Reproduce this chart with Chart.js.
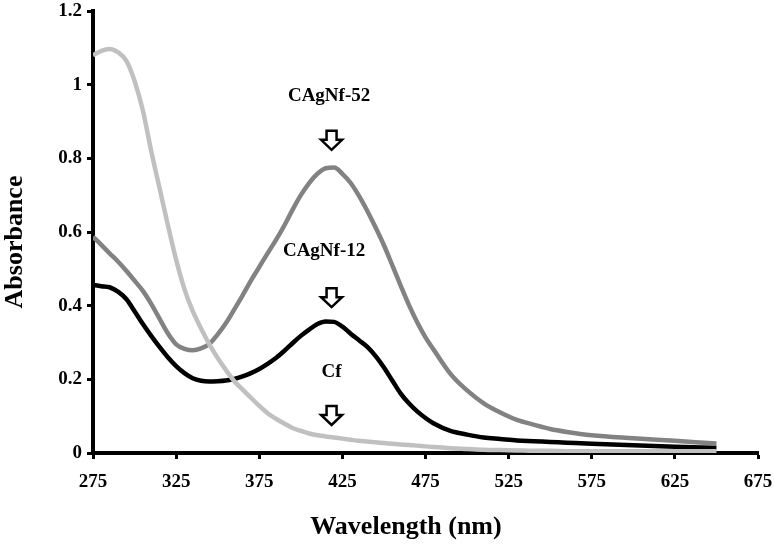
<!DOCTYPE html>
<html>
<head>
<meta charset="utf-8">
<script src="https://cdn.jsdelivr.net/npm/chart.js@4.4.1/dist/chart.umd.min.js"></script>
<style>
  html, body { margin: 0; padding: 0; background: #fff; }
  #wrap { width: 774px; height: 549px; }
</style>
</head>
<body>
<div id="wrap"><canvas id="absChart" width="774" height="549"></canvas></div>
<script>
// wavelength grid (nm)
const wavelengths = [275, 280, 285, 290, 295, 300, 305, 310, 315, 320, 325, 330, 335, 340, 345,
    350, 355, 360, 365, 370, 375, 380, 385, 390, 395, 400, 405, 410, 415, 420, 425, 430, 435,
    440, 445, 450, 455, 460, 465, 470, 475, 480, 490, 500, 510, 520, 530, 540, 550, 560, 575,
    600, 625, 650];

// absorbance values
const cfValues = [1.08, 1.092, 1.097, 1.088, 1.065, 1.01, 0.93, 0.82, 0.72, 0.62, 0.525, 0.445,
    0.385, 0.338, 0.295, 0.258, 0.225, 0.195, 0.172, 0.15, 0.128, 0.108, 0.093, 0.08, 0.068,
    0.06, 0.053, 0.048, 0.045, 0.042, 0.039, 0.036, 0.033, 0.031, 0.029, 0.027, 0.025, 0.023,
    0.022, 0.02, 0.018, 0.016, 0.013, 0.011, 0.009, 0.008, 0.007, 0.006, 0.006, 0.005, 0.005,
    0.005, 0.005, 0.005];
const agnf52Values = [0.587, 0.565, 0.542, 0.52, 0.495, 0.468, 0.44, 0.405, 0.365, 0.325, 0.295,
    0.283, 0.279, 0.284, 0.296, 0.322, 0.353, 0.39, 0.428, 0.468, 0.505, 0.542, 0.578, 0.617,
    0.66, 0.7, 0.733, 0.758, 0.773, 0.775, 0.758, 0.733, 0.698, 0.657, 0.612, 0.564, 0.51, 0.455,
    0.402, 0.355, 0.314, 0.28, 0.215, 0.17, 0.135, 0.11, 0.09, 0.077, 0.065, 0.057, 0.048, 0.04,
    0.033, 0.026];
const agnf12Values = [0.456, 0.453, 0.45, 0.438, 0.418, 0.385, 0.35, 0.318, 0.288, 0.26, 0.236,
    0.217, 0.203, 0.196, 0.194, 0.195, 0.197, 0.201, 0.208, 0.217, 0.228, 0.242, 0.258, 0.277,
    0.298, 0.318, 0.335, 0.35, 0.357, 0.356, 0.343, 0.324, 0.306, 0.288, 0.263, 0.232, 0.197,
    0.162, 0.135, 0.113, 0.095, 0.08, 0.06, 0.05, 0.042, 0.038, 0.034, 0.032, 0.03, 0.028,
    0.025, 0.021, 0.017, 0.014];

// axis ticks
const xTicks = [275, 325, 375, 425, 475, 525, 575, 625, 675];
const yTicks = [0, 0.2, 0.4, 0.6, 0.8, 1, 1.2];

// peak labels with arrows (data coordinates)
const peakLabels = ['CAgNf-52', 'CAgNf-12', 'Cf'];
const labelX = [417, 414, 418.5];
const labelY = [0.968, 0.547, 0.221];
const arrowX = [418.5, 418.5, 418.5];
const arrowTipY = [0.823, 0.396, 0.076];

const serif = '"Liberation Serif", "Times New Roman", serif';

function toPoints(values) {
    return values.map((v, i) => ({ x: wavelengths[i], y: v }));
}

// draws the peak labels, arrows and the two axis titles
const annotationPlugin = {
    id: 'peakNotes',
    afterDatasetsDraw(chart) {
        const ctx = chart.ctx;
        const xs = chart.scales.x;
        const ys = chart.scales.y;
        ctx.save();
        ctx.fillStyle = '#000';
        ctx.font = 'bold 19px ' + serif;
        ctx.textAlign = 'center';
        ctx.textBaseline = 'middle';
        peakLabels.forEach((txt, i) => {
            ctx.fillText(txt, xs.getPixelForValue(labelX[i]), ys.getPixelForValue(labelY[i]));
        });

        ctx.lineWidth = 2.5;
        ctx.strokeStyle = '#000';
        ctx.lineJoin = 'miter';
        arrowX.forEach((ax, i) => {
            const cx = xs.getPixelForValue(ax);
            const tip = ys.getPixelForValue(arrowTipY[i]);
            ctx.beginPath();
            ctx.moveTo(cx - 5, tip - 19);
            ctx.lineTo(cx + 5, tip - 19);
            ctx.lineTo(cx + 5, tip - 10);
            ctx.lineTo(cx + 10.5, tip - 10);
            ctx.lineTo(cx, tip);
            ctx.lineTo(cx - 10.5, tip - 10);
            ctx.lineTo(cx - 5, tip - 10);
            ctx.closePath();
            ctx.stroke();
        });

        // axis titles
        ctx.font = 'bold 26px ' + serif;
        ctx.fillText('Wavelength (nm)', 406, 527);
        ctx.translate(15, 242);
        ctx.rotate(-Math.PI / 2);
        ctx.fillText('Absorbance', 0, 0);
        ctx.restore();
    }
};

const lineStyle = {
    borderWidth: 4.5,
    pointRadius: 0,
    cubicInterpolationMode: 'monotone',
    fill: false
};

const data = {
    datasets: [
        Object.assign({ label: 'Cf', data: toPoints(cfValues), borderColor: '#c0c0c0' }, lineStyle),
        Object.assign({ label: 'CAgNf-52', data: toPoints(agnf52Values), borderColor: '#828282' }, lineStyle),
        Object.assign({ label: 'CAgNf-12', data: toPoints(agnf12Values), borderColor: '#000000' }, lineStyle)
    ]
};

const config = {
    type: 'line',
    data: data,
    options: {
        responsive: false,
        animation: false,
        layout: {
            padding: { top: 11, right: 16, left: 0, bottom: 0 }
        },
        plugins: {
            legend: { display: false },
            tooltip: { enabled: false }
        },
        scales: {
            x: {
                type: 'linear',
                min: 275,
                max: 675,
                afterBuildTicks: (scale) => { scale.ticks = xTicks.map(v => ({ value: v })); },
                afterFit: (scale) => {
                    scale.height = 96;
                    scale.paddingLeft = 0;
                    scale.paddingRight = 0;
                },
                grid: {
                    drawOnChartArea: false,
                    drawTicks: true,
                    tickLength: 6,
                    tickWidth: 3,
                    tickColor: '#000'
                },
                border: { display: true, color: '#000', width: 4 },
                ticks: {
                    color: '#000',
                    font: { family: serif, size: 19, weight: 'bold' },
                    padding: 12,
                    maxRotation: 0
                }
            },
            y: {
                type: 'linear',
                min: 0,
                max: 1.2,
                afterBuildTicks: (scale) => { scale.ticks = yTicks.map(v => ({ value: v })); },
                afterFit: (scale) => {
                    scale.width = 93;
                    scale.paddingTop = 0;
                    scale.paddingBottom = 0;
                },
                grid: {
                    drawOnChartArea: false,
                    drawTicks: true,
                    tickLength: 6,
                    tickWidth: 3,
                    tickColor: '#000'
                },
                border: { display: true, color: '#000', width: 4 },
                ticks: {
                    color: '#000',
                    font: { family: serif, size: 19, weight: 'bold' },
                    padding: 5,
                    callback: (v) => String(Math.round(v * 10) / 10)
                }
            }
        }
    },
    plugins: [annotationPlugin]
};

// render the chart
const absChart = new Chart(document.getElementById('absChart'), config);
</script>
</body>
</html>
